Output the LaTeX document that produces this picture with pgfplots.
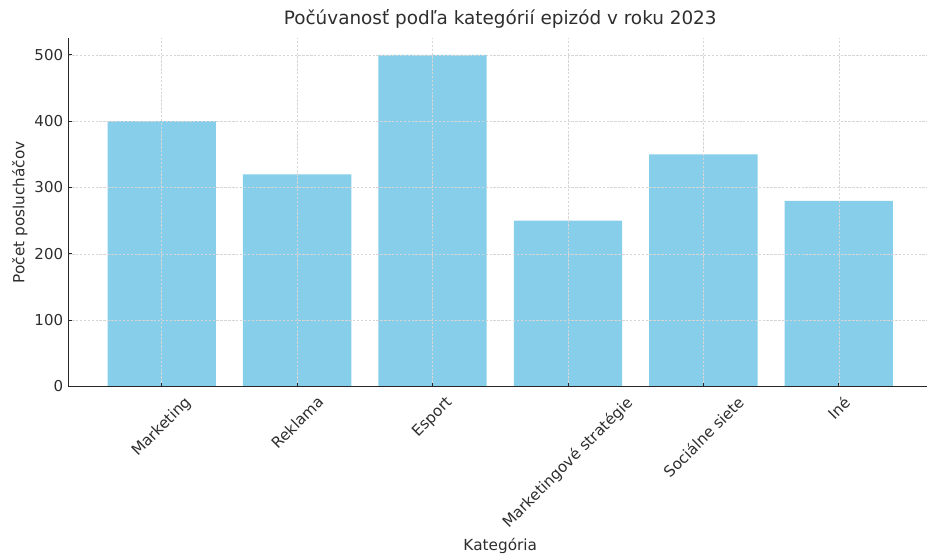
\documentclass[border=0pt]{standalone}
\usepackage{graphicx}
\usepackage{fontspec}
\setmainfont{DejaVu Sans}
\usepackage{pgfplots}
\pgfplotsset{compat=1.18}
\definecolor{barblue}{HTML}{87CEEB}
\definecolor{txt}{HTML}{2E2E2E}
\begin{document}
\begin{tikzpicture}
\useasboundingbox (-68.3pt,-167.5pt) rectangle (858.7pt,386.5pt);
\begin{axis}[
  at={(0pt,0pt)}, anchor=south west, scale only axis,
  width=863.9pt, height=348.2pt,
  xmin=-0.69, xmax=5.69, ymin=0, ymax=525,
  axis x line=bottom, axis y line=left,
  axis line style={-, line width=1.1pt, black!85},
  axis on top,
  grid=major,
  major grid style={dash pattern=on 2.4pt off 1.5pt, black!16, line width=0.55pt},
  tick align=inside, major tick length=4pt,
  tick style={black!85, line width=0.9pt},
  /pgf/number format/assume math mode=true,
  ytick={0,100,200,300,400,500},
  yticklabel style={font=\fontsize{15}{18}\selectfont, text=txt, anchor=east, inner sep=0pt, xshift=-5pt},
  xtick={0,1,2,3,4,5},
  xticklabels={{\rotatebox{45}{Marketing}},{\rotatebox{45}{Reklama}},{\rotatebox{45}{Esport}},{\rotatebox{45}{Marketingové stratégie}},{\rotatebox{45}{Sociálne siete}},{\rotatebox{45}{Iné}}},
  xticklabel style={font=\fontsize{15.2}{18}\selectfont, text=txt, anchor=north, inner sep=0pt, yshift=-8.5pt},
  title={Počúvanosť podľa kategórií epizód v roku 2023},
  title style={at={(axis description cs:0.5,1.0238)}, anchor=base, font=\fontsize{18.4}{22}\selectfont, text=txt, inner sep=0pt},
  xlabel={Kategória},
  xlabel style={at={(axis description cs:0.5,-0.4696)}, anchor=base, font=\fontsize{15.3}{18}\selectfont, text=txt, inner sep=0pt},
  ylabel={Počet poslucháčov},
  ylabel style={at={(axis description cs:-0.0507,0.5)}, anchor=base, font=\fontsize{15.3}{18}\selectfont, text=txt, inner sep=0pt},
]
\addplot[ybar, bar width=0.8, bar shift=0pt, fill=barblue, draw=none]
  coordinates {(0,400) (1,320) (2,500) (3,250) (4,350) (5,280)};
\end{axis}
\end{tikzpicture}
\end{document}
